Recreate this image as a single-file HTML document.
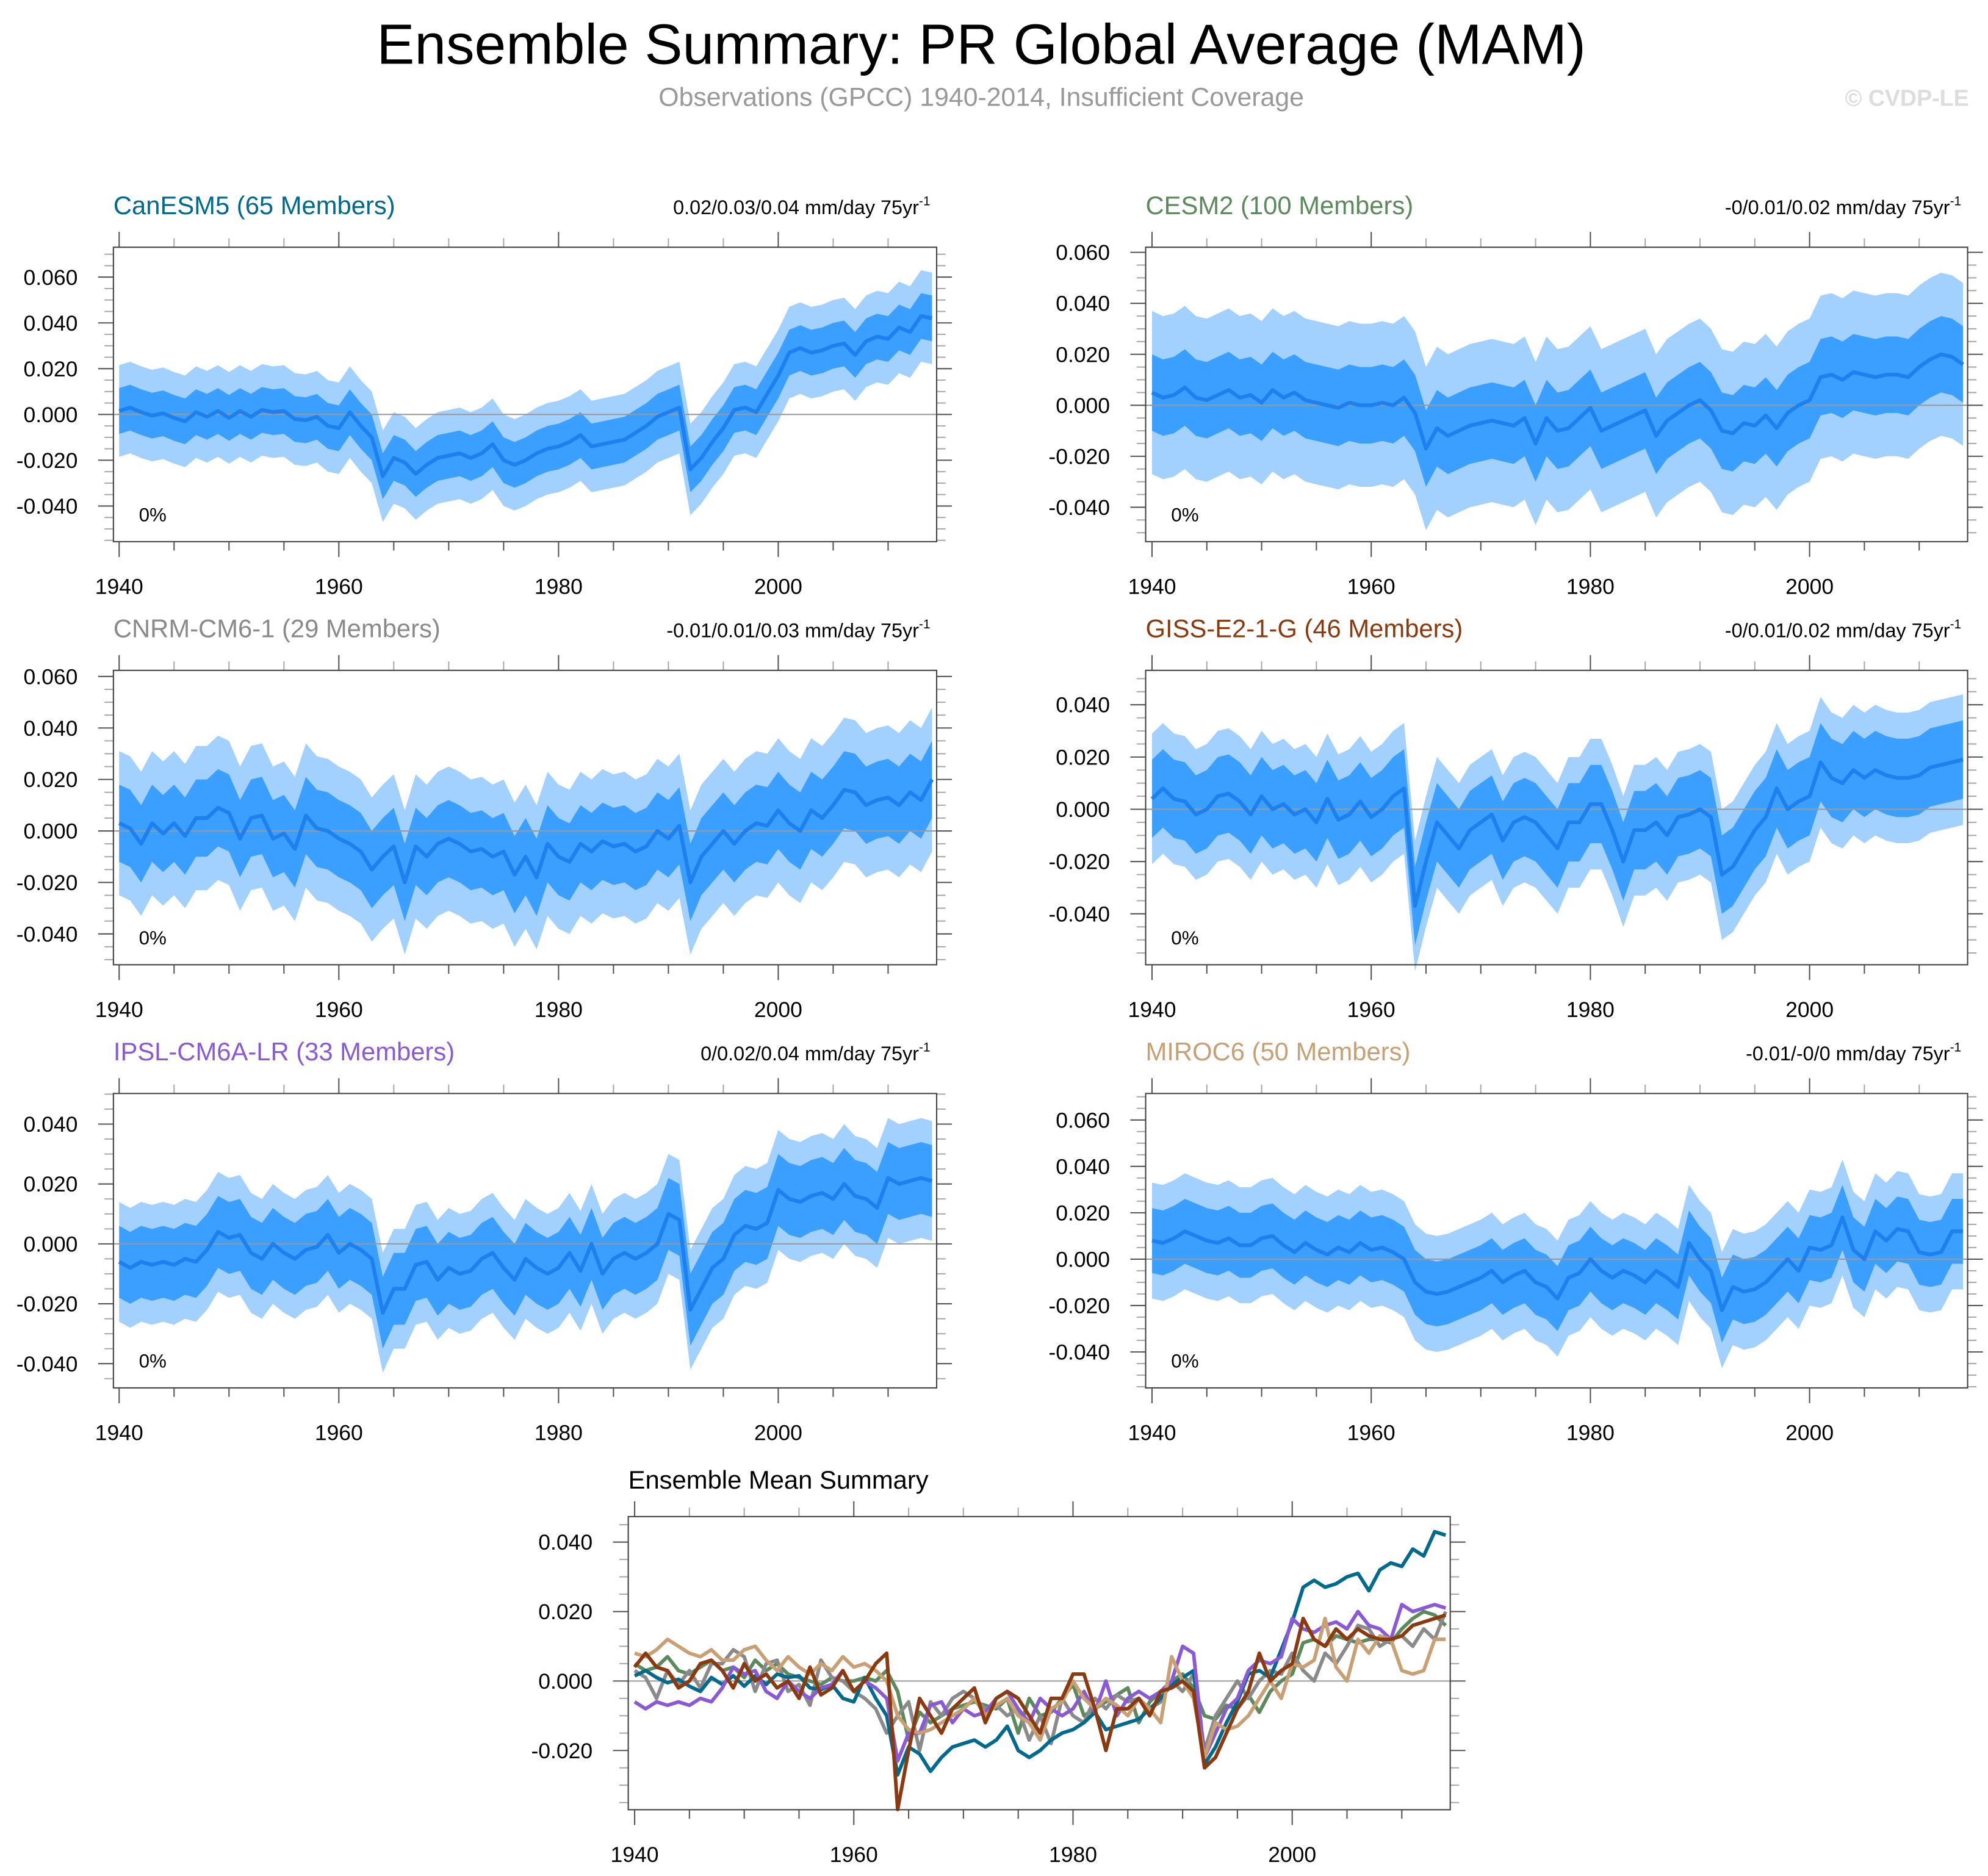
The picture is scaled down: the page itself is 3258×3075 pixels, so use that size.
<!DOCTYPE html>
<html><head><meta charset="utf-8">
<style>
html,body{margin:0;padding:0;background:#fff;}
svg{display:block;font-family:"Liberation Sans",sans-serif;}
</style></head>
<body>
<svg id="fig" width="3258" height="3075" viewBox="0 0 1560 1472" preserveAspectRatio="none" xmlns="http://www.w3.org/2000/svg">
<rect width="1560" height="1472" fill="#fff"/>
<text x="770" y="50" font-size="44.5" text-anchor="middle" fill="#000">Ensemble Summary: PR Global Average (MAM)</text>
<text x="770" y="83" font-size="20.5" text-anchor="middle" fill="#999">Observations (GPCC) 1940-2014, Insufficient Coverage</text>
<text x="1545" y="83" font-size="18" font-weight="bold" text-anchor="end" fill="#ddd">© CVDP-LE</text>
<g id="plots"></g>
</svg>
<script>
// Ensemble means in units of 0.001 mm/day, years 1940..2014
const years = Array.from({length:75},(_,i)=>1940+i);
const canesm5 = [1.5,3,1,-0.5,0.5,-1.5,-3,1,-1,1.5, -1.5,1.5,-1,2,1,1.5,-2,-2.5,-1,-5, -6,1,-5,-10,-27,-19,-21,-26,-22,-19, -18,-17,-19,-17,-13,-20,-22,-20,-17,-15, -14,-12,-9,-14,-13,-12,-11,-8,-5,-1, 1,3,-24,-19,-12,-6,2,3,1,9, 17,27,29,27,28,30,31,26,32,34, 33,38,36,43,42];
const cesm2 = [5,3,4,7,3,2,4,6,3,4, 1,6,3,5,2,1,0,-1,1,0, 0,1,0,3,-3,-17,-9,-12,-10,-8, -7,-6,-7,-8,-5,-15,-5,-10,-9,-5, -1,-10,-8,-6,-4,-2,-12,-6,-3,0, 2,-2,-10,-11,-7,-8,-4,-9,-3,0, 2,11,12,10,13,12,11,12,12,11, 15,18,20,19,16];
const cnrm = [3,1,-5,3,-1,3,-2,5,5,9, 7,-3,5,6,-3,-1,-7,6,1,0, -3,-5,-8,-15,-10,-6,-20,-6,-10,-5, -3,-5,-8,-7,-10,-8,-17,-10,-18,-5, -10,-12,-5,-8,-4,-6,-5,-8,-6,0, -3,2,-20,-10,-5,0,-5,0,3,2, 8,3,0,8,5,10,16,15,10,12, 13,10,15,12,20];
const giss = [4,8,4,3,-2,0,5,6,3,-2, 5,0,2,-2,0,-5,4,-4,-2,3, -3,0,5,8,-37,-20,-5,-10,-15,-8, -5,-2,-12,-5,-3,-5,-10,-15,-5,-5, 2,2,-8,-20,-8,-8,-5,-10,-3,-2, 0,-3,-25,-22,-15,-8,-3,8,0,3, 5,18,12,10,15,12,15,13,12,12, 13,16,17,18,19];
const ipsl = [-6,-8,-6,-7,-6,-7,-5,-6,-2,4, 2,3,-3,-5,0,-3,-5,-2,-1,3, -3,0,-2,-5,-23,-15,-15,-7,-6,-12, -8,-10,-9,-5,-3,-8,-12,-5,-8,-10, -8,-3,-9,0,-10,-5,-3,-5,-3,0, 10,8,-22,-15,-8,-5,3,6,5,7, 18,15,14,16,17,15,20,16,15,12, 22,20,21,22,21];
const miroc6 = [8,7,9,12,10,8,7,9,6,6, 9,10,6,3,7,4,2,5,3,7, 4,5,3,0,-10,-14,-15,-14,-12,-10, -8,-5,-10,-7,-5,-10,-12,-17,-8,-6, 0,-5,-8,-5,-7,-10,-5,-8,-12,7, 0,-5,-22,-12,-14,-13,-10,-5,0,-5, 5,4,6,18,4,0,12,8,13,12, 3,2,3,12,12];
// spreads (0.001 units): inner (~1 sd) and outer (min/max)
const innerSpread = [10,15,15,15,12,14];
const outerSpread = [20,32,28,25,20,25];
const modelNames = ["CanESM5 (65 Members)","CESM2 (100 Members)","CNRM-CM6-1 (29 Members)","GISS-E2-1-G (46 Members)","IPSL-CM6A-LR (33 Members)","MIROC6 (50 Members)"];
const trendLabels = ["0.02/0.03/0.04","-0/0.01/0.02","-0.01/0.01/0.03","-0/0.01/0.02","0/0.02/0.04","-0.01/-0/0"];
const yTickSets = [[60,40,20,0,-20,-40],[60,40,20,0,-20,-40],[60,40,20,0,-20,-40],[40,20,0,-20,-40],[40,20,0,-20,-40],[60,40,20,0,-20,-40]];
const bottomTicks = [40,20,0,-20];
const xTicks = [1940,1960,1980,2000];
const series = [canesm5,cesm2,cnrm,giss,ipsl,miroc6];
const colors = ["#006a8e","#5c8a5c","#8a8a8a","#8b3a0f","#8a5ad6","#c9a074"];

const NS="http://www.w3.org/2000/svg";
const root=document.getElementById('plots');
function mk(tag,attrs,parent){const e=document.createElementNS(NS,tag);for(const k in attrs)e.setAttribute(k,attrs[k]);(parent||root).appendChild(e);return e;}
function fmt(v){const s=(Math.abs(v)/1000).toFixed(3);return (v<0?'-':'')+s;}

// layouts: [x0,x1,y0,y1,x1940,pxPerYear,zeroY,pxPer001]
const layouts=[
 [89,735,194,425,93.5,8.62,325.2,1.796],
 [899,1544,194,425,904,8.6,318,2.0],
 [89,735,526,757,93.5,8.62,652,2.02],
 [899,1544,526,757,904,8.6,635,2.05],
 [89,735,858,1089,93.5,8.62,976,2.35],
 [899,1544,858,1089,904,8.6,988,1.82]
];

function axes(g,L,ticks){
  const [x0,x1,y0,y1,xb,py,zy,pv]=L;
  const X=yr=>xb+(yr-1940)*py, Y=v=>zy-v*pv;
  for(let yr=1940;yr<=2014;yr+=5){
    const maj=(yr%20===0), x=X(yr), len=maj?12:7;
    mk('line',{x1:x,x2:x,y1:y1,y2:y1+len,stroke:'#555','stroke-width':1},g);
    mk('line',{x1:x,x2:x,y1:y0,y2:y0-len,stroke:maj?'#555':'#aaa','stroke-width':1},g);
  }
  xTicks.forEach(yr=>{
    const t=mk('text',{x:X(yr),y:y1+41,'font-size':17,'text-anchor':'middle',fill:'#000'},g);
    
    
    t.textContent=yr;
  });
  const vmin=(y1-zy)/pv, vmax=(zy-y0)/pv;
  for(let v=Math.ceil(-(-vmin)/5)*5; v<=vmax; v+=5){
    if(v< -Math.abs(vmin)) continue;
  }
  for(let v=-Math.floor(Math.abs(vmin)/5)*5; v<=vmax; v+=5){
    const y=Y(v), maj=(v%20===0), len=maj?12:7;
    mk('line',{x1:x0,x2:x0-len,y1:y,y2:y,stroke:maj?'#555':'#aaa','stroke-width':1},g);
    mk('line',{x1:x1,x2:x1+len,y1:y,y2:y,stroke:maj?'#555':'#aaa','stroke-width':1},g);
  }
  ticks.forEach(v=>{
    const t=mk('text',{x:x0-28,y:Y(v)+6,'font-size':17,'text-anchor':'end',fill:'#000'},g);
    
    
    t.textContent=fmt(v);
  });
  return {X,Y};
}

layouts.forEach((L,i)=>{
  const [x0,x1,y0,y1]=L;
  const g=mk('g',{});
  
  
  const {X,Y}=axes(g,L,yTickSets[i]);
  const m=series[i];
  const band=(s,fill,name)=>{
    const top=m.map((v,k)=>X(years[k])+','+Y(v+s));
    const bot=m.map((v,k)=>X(years[k])+','+Y(v-s)).reverse();
    const p=mk('polygon',{points:top.concat(bot).join(' '),fill},g);
    
    
  };
  band(outerSpread[i],'#a2d0ff','outer-range-band');
  band(innerSpread[i],'#3a9fff','inner-range-band');
  mk('line',{x1:x0,x2:x1,y1:Y(0),y2:Y(0),stroke:'#999','stroke-width':1},g);
  const ln=mk('polyline',{points:m.map((v,k)=>X(years[k])+','+Y(v)).join(' '),fill:'none',stroke:'#1e80ee','stroke-width':3,'stroke-linejoin':'round'},g);
  
  
  mk('rect',{x:x0,y:y0,width:x1-x0,height:y1-y0,fill:'none',stroke:'#444','stroke-width':1},g);
  const t=mk('text',{x:x0,y:y0-26,'font-size':20,fill:colors[i]},g);
  
  
  t.textContent=modelNames[i];
  const tr=mk('text',{x:x1-5,y:y0-26,'font-size':15.5,'text-anchor':'end',fill:'#000'},g);
  
  
  tr.textContent=trendLabels[i]+' mm/day 75yr';
  const sup=mk('tspan',{'font-size':10,dy:-7},tr);sup.textContent='-1';
  const pc=mk('text',{x:x0+20,y:y1-16,'font-size':15,fill:'#000'},g);
  
  
  pc.textContent='0%';
});

(function(){
  const L=[493,1138,1190,1420,498,8.6,1319,2.725];
  const g=mk('g',{});
  
  
  const {X,Y}=axes(g,L,bottomTicks);
  mk('line',{x1:L[0],x2:L[1],y1:Y(0),y2:Y(0),stroke:'#999','stroke-width':1},g);
  const order=[1,2,0,4,5,3];
  order.forEach(i=>{
    const p=mk('polyline',{points:series[i].map((v,k)=>X(years[k])+','+Y(v)).join(' '),fill:'none',stroke:colors[i],'stroke-width':2.8,'stroke-linejoin':'round'},g);
    
    
  });
  mk('rect',{x:L[0],y:L[2],width:L[1]-L[0],height:L[3]-L[2],fill:'none',stroke:'#444','stroke-width':1},g);
  const t=mk('text',{x:L[0],y:L[2]-22,'font-size':20,fill:'#000'},g);
  
  
  t.textContent='Ensemble Mean Summary';
})();
</script>
</body></html>
